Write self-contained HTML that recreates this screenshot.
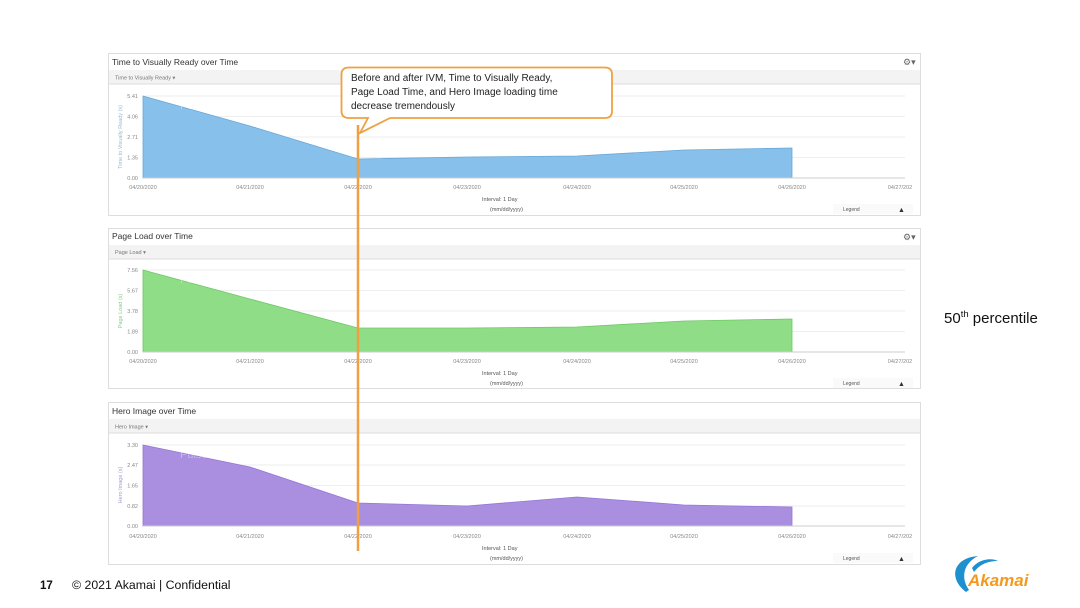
<!DOCTYPE html>
<html><head><meta charset="utf-8"><style>
html,body{margin:0;padding:0;background:#fff;}
svg{display:block;font-family:"Liberation Sans",sans-serif;}
</style></head><body>
<svg width="1080" height="608" viewBox="0 0 1080 608" xmlns="http://www.w3.org/2000/svg">
<defs>
<g id="xl" font-size="5.5" fill="#888" text-anchor="middle">
<text x="143" y="0">04/20/2020</text><text x="250" y="0">04/21/2020</text><text x="358" y="0">04/22/2020</text><text x="467" y="0">04/23/2020</text><text x="577" y="0">04/24/2020</text><text x="684" y="0">04/25/2020</text><text x="792" y="0">04/26/2020</text><text x="900" y="0">04/27/202</text>
</g>
</defs>

<!-- Panel 1 -->
<rect x="108.5" y="53.5" width="812" height="162" fill="#fff" stroke="#ddd"/>
<rect x="109" y="70" width="811" height="14" fill="#f3f3f3"/>
<line x1="109" y1="84" x2="920" y2="84" stroke="#ddd"/>
<text x="112" y="65" font-size="8.5" fill="#333">Time to Visually Ready over Time</text>
<text x="115" y="79.5" font-size="5.5" fill="#777">Time to Visually Ready ▾</text>
<text x="903" y="65" font-size="9" fill="#666">⚙▾</text>
<g stroke="#eee"><line x1="143" y1="96" x2="905" y2="96"/><line x1="143" y1="116.5" x2="905" y2="116.5"/><line x1="143" y1="137" x2="905" y2="137"/><line x1="143" y1="157.5" x2="905" y2="157.5"/></g>
<polygon points="143,96 250,126 358,159 467,157 577,156 684,150 792,148 792,178 143,178" fill="#86c0eb" stroke="#6aa8d8" stroke-width="0.8"/>
<line x1="143" y1="178" x2="905" y2="178" stroke="#ccc"/>
<g font-size="5.5" fill="#888" text-anchor="end"><text x="138" y="98">5.41</text><text x="138" y="118.5">4.06</text><text x="138" y="139">2.71</text><text x="138" y="159.5">1.35</text><text x="138" y="180">0.00</text></g>
<text transform="translate(122,137) rotate(-90)" font-size="5.5" fill="#9bc" text-anchor="middle">Time to Visually Ready (s)</text>
<text x="180" y="109" font-size="11" fill="#fff" fill-opacity="0.35">Pulse</text>
<use href="#xl" y="189"/>
<text x="482" y="201" font-size="5.5" fill="#555">Interval:   1 Day</text>
<text x="490" y="211" font-size="5.5" fill="#555">(mm/dd/yyyy)</text>
<rect x="833" y="204" width="80" height="10" fill="#fafafa"/>
<text x="843" y="211" font-size="5" fill="#555">Legend</text><text x="898" y="212" font-size="7" fill="#333">▲</text>

<!-- Panel 2 -->
<rect x="108.5" y="228.5" width="812" height="160" fill="#fff" stroke="#ddd"/>
<rect x="109" y="245" width="811" height="14" fill="#f3f3f3"/>
<line x1="109" y1="259" x2="920" y2="259" stroke="#ddd"/>
<text x="112" y="239" font-size="8.5" fill="#333">Page Load over Time</text>
<text x="115" y="254" font-size="5.5" fill="#777">Page Load ▾</text>
<text x="903" y="240" font-size="9" fill="#666">⚙▾</text>
<g stroke="#eee"><line x1="143" y1="270" x2="905" y2="270"/><line x1="143" y1="290.5" x2="905" y2="290.5"/><line x1="143" y1="311" x2="905" y2="311"/><line x1="143" y1="331.5" x2="905" y2="331.5"/></g>
<polygon points="143,270 250,299 358,328 467,328 577,327 684,321 792,319 792,352 143,352" fill="#8fdd86" stroke="#6cc964" stroke-width="0.8"/>
<line x1="143" y1="352" x2="905" y2="352" stroke="#ccc"/>
<g font-size="5.5" fill="#888" text-anchor="end"><text x="138" y="272">7.56</text><text x="138" y="292.5">5.67</text><text x="138" y="313">3.78</text><text x="138" y="333.5">1.89</text><text x="138" y="354">0.00</text></g>
<text transform="translate(122,311) rotate(-90)" font-size="5.5" fill="#8c8" text-anchor="middle">Page Load (s)</text>
<text x="180" y="283" font-size="11" fill="#fff" fill-opacity="0.35">Pulse</text>
<use href="#xl" y="363"/>
<text x="482" y="375" font-size="5.5" fill="#555">Interval:   1 Day</text>
<text x="490" y="385" font-size="5.5" fill="#555">(mm/dd/yyyy)</text>
<rect x="833" y="378" width="80" height="10" fill="#fafafa"/>
<text x="843" y="385" font-size="5" fill="#555">Legend</text><text x="898" y="386" font-size="7" fill="#333">▲</text>

<!-- Panel 3 -->
<rect x="108.5" y="402.5" width="812" height="162" fill="#fff" stroke="#ddd"/>
<rect x="109" y="419" width="811" height="14" fill="#f3f3f3"/>
<line x1="109" y1="433" x2="920" y2="433" stroke="#ddd"/>
<text x="112" y="414" font-size="8.5" fill="#333">Hero Image over Time</text>
<text x="115" y="428.5" font-size="5.5" fill="#777">Hero Image ▾</text>
<g stroke="#eee"><line x1="143" y1="445" x2="905" y2="445"/><line x1="143" y1="465" x2="905" y2="465"/><line x1="143" y1="485.5" x2="905" y2="485.5"/><line x1="143" y1="506" x2="905" y2="506"/></g>
<polygon points="143,445 250,467 358,503 467,506 577,497 684,505 792,507 792,526 143,526" fill="#aa8fe1" stroke="#9476d6" stroke-width="0.8"/>
<line x1="143" y1="526" x2="905" y2="526" stroke="#ccc"/>
<g font-size="5.5" fill="#888" text-anchor="end"><text x="138" y="447">3.30</text><text x="138" y="467">2.47</text><text x="138" y="487.5">1.65</text><text x="138" y="508">0.82</text><text x="138" y="528">0.00</text></g>
<text transform="translate(122,485) rotate(-90)" font-size="5.5" fill="#a9c" text-anchor="middle">Hero Image (s)</text>
<text x="180" y="458" font-size="11" fill="#fff" fill-opacity="0.35">Pulse</text>
<use href="#xl" y="538"/>
<text x="482" y="550" font-size="5.5" fill="#555">Interval:   1 Day</text>
<text x="490" y="560" font-size="5.5" fill="#555">(mm/dd/yyyy)</text>
<rect x="833" y="553" width="80" height="10" fill="#fafafa"/>
<text x="843" y="560" font-size="5" fill="#555">Legend</text><text x="898" y="561" font-size="7" fill="#333">▲</text>

<!-- Orange annotation -->
<line x1="358" y1="125" x2="358" y2="551" stroke="#f0a040" stroke-width="2.5"/>
<path d="M349,67.5 H605 Q612,67.5 612,74.5 V111 Q612,118 605,118 H390 L360,133 L368,118 H349 Q341.5,118 341.5,111 V74.5 Q341.5,67.5 349,67.5 Z" fill="#fff" stroke="#f0a040" stroke-width="1.8"/>
<g font-size="10" fill="#222"><text x="351" y="81">Before and after IVM, Time to Visually Ready,</text><text x="351" y="95">Page Load Time, and Hero Image loading time</text><text x="351" y="109">decrease tremendously</text></g>

<text x="944" y="323" font-size="15" fill="#111">50<tspan font-size="9.5" dy="-6">th</tspan><tspan dy="6"> percentile</tspan></text>

<text x="40" y="589" font-size="11.5" font-weight="bold" fill="#111">17</text>
<text x="72" y="589" font-size="12.3" fill="#111">© 2021 Akamai | Confidential</text>

<path d="M966,592 C948,578 953,558 978,556 C964,563 960,577 969,590 Z" fill="#1e8fcf"/>
<path d="M972,568 C978,560 990,557 998,561 C988,561 980,564 974,572 Z" fill="#1e8fcf"/>
<text x="968" y="586" font-size="17" font-weight="bold" font-style="italic" fill="#f39a1e">Akamai</text>
</svg>
</body></html>
